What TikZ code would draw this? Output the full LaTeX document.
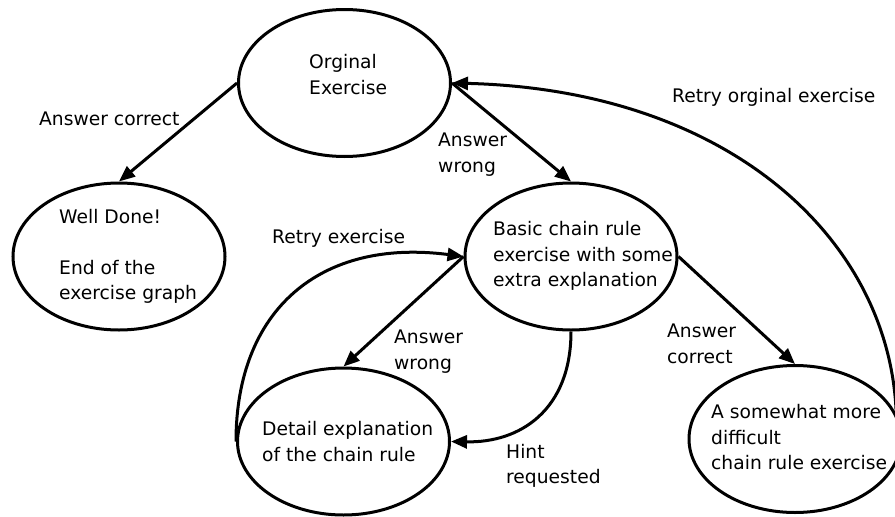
\documentclass[tikz,border=0pt]{standalone}
\usepackage{fontspec}
\setmainfont{DejaVu Sans}
\usetikzlibrary{arrows.meta,shapes.geometric}
\begin{document}
\begin{tikzpicture}[x=1pt,y=-1pt,
  every node/.style={font=\fontsize{18.7}{25.5}\selectfont, inner sep=0pt},
  state/.style={ellipse, draw, line width=3pt, minimum width=212pt, minimum height=147pt},
  stxt/.style={anchor=north west, align=left},
  elabel/.style={anchor=north west, align=left},
  edge/.style={line width=3pt, -{Triangle[length=16pt,width=13pt]}}
]
\useasboundingbox (0,0) rectangle (895,517);

% states
\node[state] (orig)   at (344.5,83)  {};
\node[state] (well)   at (119,256.5) {};
\node[state] (basic)  at (571,256.5) {};
\node[state] (detail) at (343.5,441.5) {};
\node[state] (some)   at (795,439)   {};

% state texts
\node[stxt] (origtxt)   at (309,54.5)  {Orginal\\Exercise};
\node[stxt] (welltxt)   at (59,209)    {Well Done!\\[25.5pt]End of the\\exercise graph};
\node[stxt] (basictxt)  at (493,221.5) {Basic chain rule\\exercise with some\\extra explanation};
\node[stxt] (detailtxt) at (262,421.5) {Detail explanation\\of the chain rule};
\node[stxt] (sometxt)   at (711,404.5) {A somewhat more\\difficult\\chain rule exercise};

% transitions
\draw[edge] (orig.west) -- (well.north);
\draw[edge] (orig.east) -- (basic.north);
\draw[edge] (basic.west) -- (detail.north);
\draw[edge] (basic.east) -- (some.north);
\draw[edge] (basic.south) .. controls (571,410) and (520,443) .. (detail.east);
\draw[edge] (detail.west) .. controls (236,310) and (320,238) .. (basic.west);
\draw[edge] (some.14) .. controls (890,240) and (730,90) .. (orig.east);

% transition labels
\node[elabel] (l1) at (39,112)    {Answer correct};
\node[elabel] (l2) at (438,133)   {Answer\\wrong};
\node[elabel] (l3) at (672,88.5)  {Retry orginal exercise};
\node[elabel] (l4) at (272,229)   {Retry exercise};
\node[elabel] (l5) at (394,330)   {Answer\\wrong};
\node[elabel] (l6) at (667,324)   {Answer\\correct};
\node[elabel] (l7) at (506,444)   {Hint\\requested};
\end{tikzpicture}
\end{document}
